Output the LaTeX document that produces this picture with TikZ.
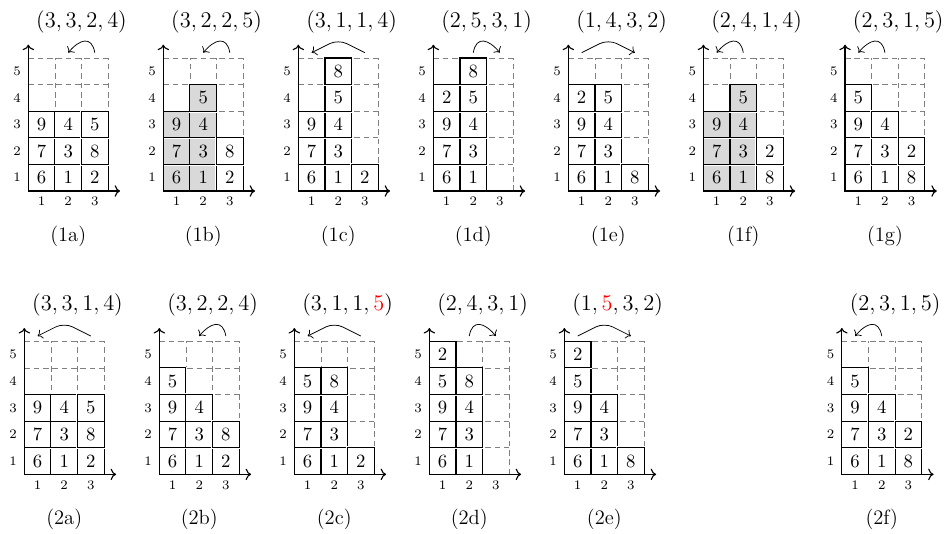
\documentclass[tikz,border=0pt]{standalone}
\usetikzlibrary{arrows.meta}
\colorlet{shade}{gray!30}
\newcommand{\panel}[5]{%
\begin{scope}[shift={#1},name prefix=#2-]
\draw[dashgrid] (0,0) grid[step=5mm] (3,5);
\foreach \lst/\f [count=\cl] in {#4}
  \foreach \v [count=\rw] in \lst
    \node[cell,fill=\f] (c\cl\rw) at (\cl-0.5,\rw-0.5) {$\v$};
\draw[axis] (0,0) -- (0,5.5);
\draw[axis] (0,0) -- (3.45,0);
\foreach \i in {1,2,3} {\node[tick] (x\i) at (\i-0.5,-0.4) {$\i$}; \coordinate (a\i) at (\i-0.5,5.2);}
\foreach \j in {1,...,5} \node[tick] (y\j) at (-0.42,\j-0.5) {$\j$};
\coordinate (p) at (1.5,5.7);
\node[font=\large] (t) at (2,6.36) {$#3$};
\node[font=\fontsize{11}{13}\selectfont] (cap) at (1.5,-1.7) {(#2)};
\draw[jump] #5;
\end{scope}}

\begin{document}
\begin{tikzpicture}[x=5mm,y=5mm,
 cell/.style={draw,line width=0.6pt,minimum size=5mm,inner sep=0pt,
   preaction={draw=white,line width=1.4pt}},
 dashgrid/.style={gray,dash pattern=on 3pt off 2pt},
 axis/.style={->,line width=0.6pt},
 tick/.style={font=\scriptsize,inner sep=1pt},
 jump/.style={->,rounded corners=5pt},
 hopl/.style={out=100,in=50,looseness=1.7},
 hopr/.style={out=80,in=130,looseness=1.7}]
\useasboundingbox (-1.064,-12.89) rectangle (34.42,7.18);
\panel{(0,0)}{1a}{(3,3,2,4)}{{6,7,9}/white,{1,3,4}/white,{2,8,5}/white}{(a3) to[hopl] (a2)}
\panel{(5.075,0)}{1b}{(3,2,2,5)}{{6,7,9}/shade,{1,3,4,5}/shade,{2,8}/white}{(a3) to[hopl] (a2)}
\panel{(10.15,0)}{1c}{(3,1,1,4)}{{6,7,9}/white,{1,3,4,5,8}/white,{2}/white}{(a3) -- (p) -- (a1)}
\panel{(15.226,0)}{1d}{(2,5,3,1)}{{6,7,9,2}/white,{1,3,4,5,8}/white}{(a2) to[hopr] (a3)}
\panel{(20.3,0)}{1e}{(1,4,3,2)}{{6,7,9,2}/white,{1,3,4,5}/white,{8}/white}{(a1) -- (p) -- (a3)}
\panel{(25.376,0)}{1f}{(2,4,1,4)}{{6,7,9}/shade,{1,3,4,5}/shade,{8,2}/white}{(a2) to[hopl] (a1)}
\panel{(30.7,0)}{1g}{(2,3,1,5)}{{6,7,9,5}/white,{1,3,4}/white,{8,2}/white}{(a2) to[hopl] (a1)}
\panel{(-0.15,-10.65)}{2a}{(3,3,1,4)}{{6,7,9}/white,{1,3,4}/white,{2,8,5}/white}{(a3) -- (p) -- (a1)}
\panel{(4.925,-10.65)}{2b}{(3,2,2,4)}{{6,7,9,5}/white,{1,3,4}/white,{2,8}/white}{(a3) to[hopl] (a2)}
\panel{(10,-10.65)}{2c}{(3,1,1,\textcolor{red}{5})}{{6,7,9,5}/white,{1,3,4,8}/white,{2}/white}{(a3) -- (p) -- (a1)}
\panel{(15.075,-10.65)}{2d}{(2,4,3,1)}{{6,7,9,5,2}/white,{1,3,4,8}/white}{(a2) to[hopr] (a3)}
\panel{(20.15,-10.65)}{2e}{(1,\textcolor{red}{5},3,2)}{{6,7,9,5,2}/white,{1,3,4}/white,{8}/white}{(a1) -- (p) -- (a3)}
\panel{(30.58,-10.65)}{2f}{(2,3,1,5)}{{6,7,9,5}/white,{1,3,4}/white,{8,2}/white}{(a2) to[hopl] (a1)}
\end{tikzpicture}
\end{document}
